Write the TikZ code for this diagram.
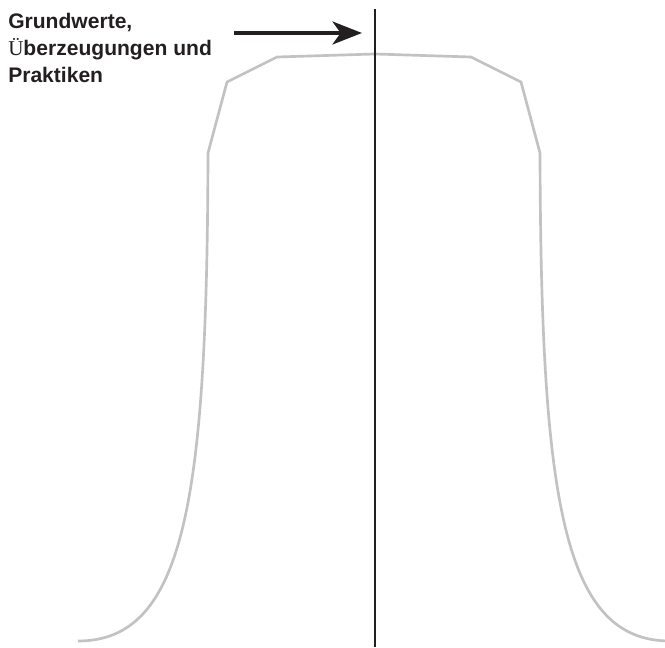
\documentclass[tikz,border=0pt]{standalone}
\usepackage{fontspec}
\setmainfont{Liberation Sans}
\newfontfamily\serifue{Liberation Serif}
\usetikzlibrary{arrows.meta}
\definecolor{curvegray}{HTML}{C2C2C2}
\definecolor{inkblack}{HTML}{231F20}
\tikzset{
  bellline/.style={draw=curvegray, line width=2pt, line join=miter},
  axisline/.style={draw=inkblack, line width=2.2pt},
  bigarrow/.style={draw=inkblack, fill=inkblack, line width=3.5pt,
    -{Stealth[length=22pt, width=17pt, inset=6pt]}},
  labeltext/.style={font=\bfseries\fontsize{15.8}{20.2}\selectfont, text=inkblack,
    align=left, inner sep=0pt, anchor=north west}
}
\begin{document}
\begin{tikzpicture}[x=0.75pt,y=-0.75pt]
\useasboundingbox (0,0) rectangle (665,648);
% bell curve
\draw[bellline] (78,641) .. controls (185,641) and (207,500) .. (208,153)
  -- (227,82) -- (277,57) -- (375,54) -- (471,57) -- (521,82) -- (540,153)
  .. controls (541,500) and (563,641) .. (670,641);
% vertical axis
\coordinate (axtop) at (375,9);
\coordinate (axbot) at (375,647);
\draw[axisline] (axtop) -- (axbot);
% label
\node[labeltext] (lbl) at (8,13) {Grundwerte,\\{\serifue\mdseries Ü}berzeugungen und\\Praktiken};
% arrow
\coordinate (arrs) at (234,33);
\coordinate (arre) at (362,33);
\draw[bigarrow] (arrs) -- (arre);
\end{tikzpicture}
\end{document}
